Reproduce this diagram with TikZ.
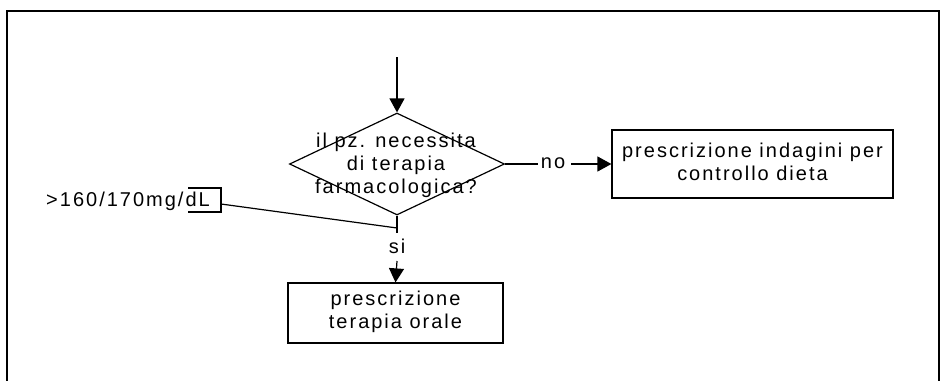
\documentclass[tikz,border=0pt]{standalone}
\usepackage{fontspec}
\setmainfont{Liberation Sans}[LetterSpace=10]
\usetikzlibrary{shapes.geometric,arrows.meta}
\tikzset{
  frame/.style={line width=1.6pt},
  procbox/.style={draw, line width=1.2pt, inner sep=0pt, align=center},
  dec/.style={draw, diamond, line width=1.2pt, inner sep=0pt},
  txt/.style={align=center, inner sep=0pt, font=\fontsize{20}{23}\selectfont},
  conn/.style={line width=1.2pt},
  arr/.style={line width=1.2pt, -{Triangle[width=15pt,length=14pt]}},
  lbl/.style={fill=white, inner sep=3pt, font=\fontsize{20}{23}\selectfont}
}
\begin{document}
\begin{tikzpicture}[x=1pt,y=-1pt]
\useasboundingbox (0,0) rectangle (941,380);
\draw[frame] (7,381) -- (7,11) -- (939,11) -- (939,381);
% decision
\node[dec, minimum width=215pt, minimum height=102pt] (d) at (397,164) {};
\node[txt] (dt) at (396,165) {il pz. necessita\\di terapia\\farmacologica?};
\coordinate (top) at (397,57);
\draw[arr] (top) -- (d.north);
% right box
\node[procbox, minimum width=281pt, minimum height=68pt] (b1) at (752.5,164) {};
\node[txt] (b1t) at (752.5,162) {prescrizione indagini per\\controllo dieta};
\draw[conn] (d.east) -- (538,164);
\node[lbl, inner sep=0pt] (no) at (553,163) {no};
\draw[arr] (571,164) -- (b1.west);
% bottom box
\node[procbox, minimum width=215pt, minimum height=60pt] (b2) at (395.5,313) {};
\node[txt] (b2t) at (395.5,312) {prescrizione\\terapia orale};
\coordinate (j) at (397,228);
\draw[conn] (d.south) -- (397,233);
\node[lbl, inner sep=0pt] (si) at (397,246) {si};
\draw[arr] (397,261) -- (b2.north);
% threshold label
\node[txt] (lab) at (128,201) {>160/170mg/dL};
\coordinate (brk) at (221,204);
\draw[conn] (188,188) -- (221,188) -- (221,212) -- (188,212);
\draw[conn] (brk) -- (j);
\end{tikzpicture}
\end{document}
